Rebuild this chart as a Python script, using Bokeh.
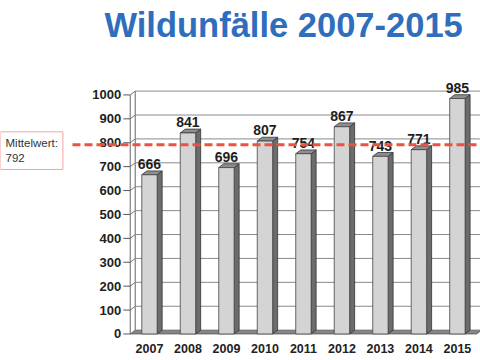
from bokeh.plotting import figure
from bokeh.models import Label, ColumnDataSource
from bokeh.core.properties import value
from bokeh.embed import file_html
from bokeh.resources import INLINE

# ---- data ----
years = ["2007", "2008", "2009", "2010", "2011", "2012", "2013", "2014", "2015"]
counts = [666, 841, 696, 807, 754, 867, 743, 771, 985]
mean_value = 792
mean_label = "Mittelwert:\n792"
y_ticks = [0, 100, 200, 300, 400, 500, 600, 700, 800, 900, 1000]
title_text = "Wildunfälle 2007-2015"

# ---- style constants ----
DX = 0.13      # 3-D depth, x (category units)
DY = 16        # 3-D depth, y (value units)
HW = 0.2       # half bar width
X_START, X_END = -3.87, 8.6
Y_START, Y_END = -111, 1211
TICK = 0.18    # tick length in category units
FONT = "Liberation Sans"

pos = list(range(len(years)))
x_lo, x_hi = -0.5, len(years) - 0.5
y_top = y_ticks[-1]

p = figure(width=480, height=360, x_range=(X_START, X_END), y_range=(Y_START, Y_END),
           x_axis_location=None, y_axis_location=None,
           output_backend="svg", toolbar_location=None,
           min_border_left=0, min_border_right=0, min_border_top=44, min_border_bottom=0)
p.outline_line_color = None
p.grid.visible = False

p.title.text = title_text
p.title.text_font = FONT
p.title.text_font_style = "bold"
p.title.text_font_size = "34.5px"
p.title.text_color = "#2e6ebd"
p.title.align = "left"
p.title.offset = 104
p.title.standoff = 2

# floor
p.patch([x_lo, x_hi, x_hi + DX, x_lo + DX], [0, 0, DY, DY],
        fill_color="#858585", line_color="#555555", line_width=0.8)

# left wall lines
p.segment(x0=[x_lo, x_lo + DX], y0=[0, DY], x1=[x_lo, x_lo + DX], y1=[y_top, y_top + DY],
          line_color="#666666", line_width=1)
# grid: diagonal on left wall + horizontal on back wall
gt = [t for t in y_ticks if t > 0]
p.segment(x0=[x_lo] * len(gt), y0=gt, x1=[x_lo + DX] * len(gt), y1=[t + DY for t in gt],
          line_color="#777777", line_width=1)
p.segment(x0=[x_lo + DX] * len(gt), y0=[t + DY for t in gt], x1=[X_END] * len(gt),
          y1=[t + DY for t in gt], line_color="#8a8a8a", line_width=1)

# value axis: ticks and tick labels at the wall's front edge
p.segment(x0=[x_lo - TICK] * len(y_ticks), y0=y_ticks, x1=[x_lo] * len(y_ticks), y1=y_ticks,
          line_color="#555555", line_width=1)
p.text(x=[x_lo - TICK] * len(y_ticks), y=y_ticks, text=[str(t) for t in y_ticks],
       text_align="right", text_baseline="middle", x_offset=-2,
       text_font=value(FONT), text_font_style="bold", text_font_size="13px",
       text_color="#222222")

# bars: side faces, top faces, front faces
side_xs = [[x + HW, x + HW + DX, x + HW + DX, x + HW] for x in pos]
side_ys = [[0, DY, v + DY, v] for v in counts]
top_xs = [[x - HW, x + HW, x + HW + DX, x - HW + DX] for x in pos]
top_ys = [[v, v, v + DY, v + DY] for v in counts]
p.patches(side_xs, side_ys, fill_color="#6c6c6c", line_color="#333333", line_width=0.8)
p.patches(top_xs, top_ys, fill_color="#8e8e8e", line_color="#333333", line_width=0.8)
p.vbar(x=pos, top=counts, bottom=0, width=2 * HW, fill_color="#d4d4d4",
       line_color="#444444", line_width=0.8)

# value labels
src = ColumnDataSource(dict(x=pos, y=[v + DY for v in counts], t=[str(v) for v in counts]))
p.text(x="x", y="y", text="t", source=src, text_align="center", text_baseline="bottom",
       text_font=value(FONT), text_font_style="bold", text_font_size="14px",
       text_color="#1e1e1e", y_offset=-2)

# category labels below the floor
p.text(x=pos, y=[0] * len(pos), text=years, text_align="center", text_baseline="middle",
       y_offset=15, text_font=value(FONT), text_font_style="bold", text_font_size="12.5px",
       text_color="#222222")

# mean line (extends left past the value axis) and its box
p.segment(x0=[-2.0], y0=[mean_value], x1=[X_END], y1=[mean_value],
          line_color="#f0503c", line_width=3, line_dash="8 4")
p.add_layout(Label(x=X_START, y=mean_value, text=mean_label, x_units="data", y_units="data",
                   text_font=FONT, text_font_size="11.5px", text_color="#333333",
                   text_line_height=1.3, text_baseline="middle",
                   border_line_color="#f2a4a4", border_line_width=1,
                   padding=5, background_fill_color="white", x_offset=0, y_offset=-6))

open("out.html", "w").write(file_html(p, INLINE))
